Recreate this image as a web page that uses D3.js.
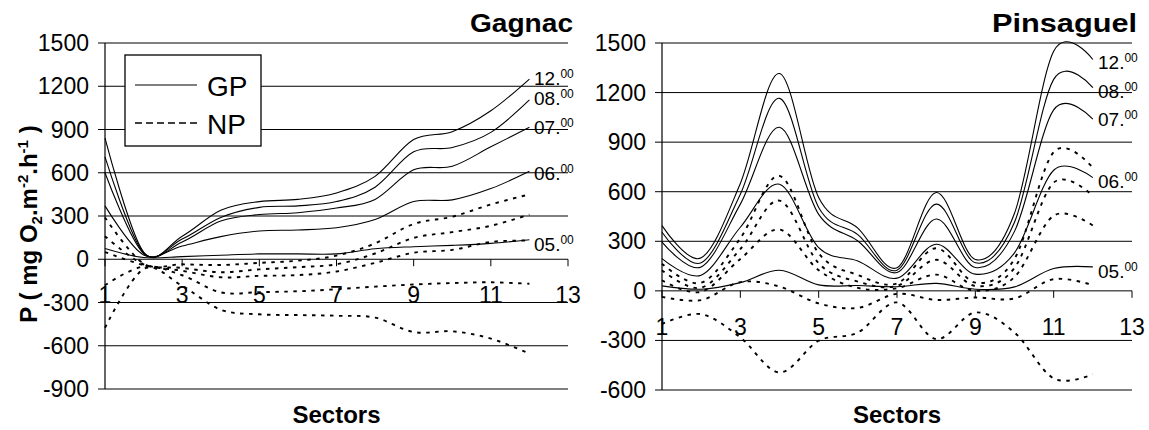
<!DOCTYPE html>
<html>
<head>
<meta charset="utf-8">
<script src="https://cdn.jsdelivr.net/npm/d3@7"></script>
<style>
  html, body { margin: 0; padding: 0; background: #fff; }
  svg { display: block; font-family: "Liberation Sans", Arial, sans-serif; }
</style>
</head>
<body>
<svg id="chart" width="1149" height="430"></svg>
<script>
// ---------- data ----------
const sectors = [1, 2, 3, 4, 5, 6, 7, 8, 9, 10, 11, 12];
const xTickValues = [1, 3, 5, 7, 9, 11, 13];
const gagnacYTicks = [-900, -600, -300, 0, 300, 600, 900, 1200, 1500];
const pinsaguelYTicks = [-600, -300, 0, 300, 600, 900, 1200, 1500];
const hours = ["12", "08", "07", "06", "05"];

// Gagnac gross production (GP) per hour
const gagnacGP12 = [840, 50, 160, 340, 400, 415, 460, 575, 830, 885, 1030, 1250];
const gagnacGP08 = [710, 45, 140, 290, 360, 370, 400, 500, 745, 775, 880, 1105];
const gagnacGP07 = [600, 40, 120, 265, 310, 323, 355, 415, 620, 645, 780, 915];
const gagnacGP06 = [370, 30, 92, 157, 196, 203, 218, 275, 400, 412, 490, 610];
const gagnacGP05 = [75, 12, 18, 28, 37, 37, 37, 73, 87, 96, 110, 135];
// Gagnac net production (NP)
const gagnacNP12 = [290, -30, -35, -40, -25, -10, 25, 110, 245, 295, 380, 450];
const gagnacNP08 = [160, -35, -60, -90, -70, -55, -35, 40, 148, 188, 232, 310];
const gagnacNP07 = [50, -40, -80, -125, -115, -110, -85, -25, 45, 65, 120, 130];
const gagnacNP06 = [-180, -50, -111, -230, -228, -222, -208, -190, -175, -165, -160, -170];
const gagnacNP05 = [-475, -68, -185, -350, -382, -387, -392, -405, -505, -500, -550, -655];

// Pinsaguel gross production (GP)
const pinsaguelGP12 = [395, 200, 650, 1315, 565, 380, 140, 595, 190, 470, 1450, 1400];
const pinsaguelGP08 = [355, 170, 585, 1165, 505, 340, 125, 525, 170, 415, 1280, 1230];
const pinsaguelGP07 = [295, 145, 525, 990, 463, 302, 111, 435, 141, 360, 1095, 1040];
const pinsaguelGP06 = [195, 95, 385, 645, 262, 181, 77, 282, 101, 230, 730, 685];
const pinsaguelGP05 = [30, 10, 50, 125, 36, 32, 25, 45, 10, 24, 135, 145];
// Pinsaguel net production (NP)
const pinsaguelNP12 = [164, 49, 318, 696, 227, 96, 45, 258, 50, 194, 840, 745];
const pinsaguelNP08 = [124, 19, 253, 546, 167, 56, 30, 188, 30, 139, 655, 575];
const pinsaguelNP07 = [64, -6, 193, 371, 125, 18, 16, 98, 0, 84, 455, 395];
const pinsaguelNP06 = [-36, -56, 53, 26, -76, -103, -18, -55, -40, -46, 71, 35];
const pinsaguelNP05 = [-201, -141, -282, -494, -302, -252, -70, -292, -131, -252, -530, -505];

// ---------- drawing ----------
const svg = d3.select("#chart");
const curve = d3.curveCardinal.tension(0);

function drawPanel(cfg) {
  const x = d3.scaleLinear().domain([1, 13]).range([cfg.x0, cfg.x1]);
  const y = d3.scaleLinear().domain([cfg.yTicks[0], 1500]).range([cfg.yBottom, 43]);
  const g = svg.append("g");

  // gridlines (extend left as tick marks)
  g.selectAll("line.grid").data(cfg.yTicks).join("line")
    .attr("x1", cfg.x0 - 7).attr("x2", cfg.x1)
    .attr("y1", d => y(d)).attr("y2", d => y(d))
    .attr("stroke", "#000").attr("stroke-width", 1);

  // y axis
  g.append("line").attr("x1", x(1)).attr("x2", x(1))
    .attr("y1", y(1500)).attr("y2", y(cfg.yTicks[0]))
    .attr("stroke", "#000").attr("stroke-width", 1.2);

  // y tick labels
  g.selectAll("text.yl").data(cfg.yTicks).join("text")
    .attr("x", cfg.x0 - 16).attr("y", d => y(d) + 8)
    .attr("text-anchor", "end").attr("font-size", 23)
    .text(d => d);

  // x ticks at zero line
  g.selectAll("line.xt").data(xTickValues).join("line")
    .attr("x1", d => x(d)).attr("x2", d => x(d))
    .attr("y1", y(0)).attr("y2", y(0) + 7)
    .attr("stroke", "#000").attr("stroke-width", 1);

  g.selectAll("text.xl").data(xTickValues).join("text")
    .attr("x", d => x(d)).attr("y", y(0) + 44)
    .attr("text-anchor", "middle").attr("font-size", 23)
    .text(d => d);

  const line = d3.line().x((d, i) => x(sectors[i])).y(d => y(d)).curve(curve);

  cfg.np.forEach(s => {
    g.append("path").attr("d", line(s)).attr("fill", "none")
      .attr("stroke", "#000").attr("stroke-width", 1.9)
      .attr("stroke-dasharray", "3.5,5.5");
  });
  cfg.gp.forEach(s => {
    g.append("path").attr("d", line(s)).attr("fill", "none")
      .attr("stroke", "#000").attr("stroke-width", 1.1);
  });

  // hour labels
  cfg.labelY.forEach((ly, i) => {
    const t = g.append("text").attr("x", cfg.labelX).attr("y", ly)
      .attr("font-size", 19);
    t.append("tspan").text(hours[i] + ".");
    t.append("tspan").attr("font-size", 12).attr("dy", -7).text("00");
  });

  // title
  g.append("text").attr("x", cfg.titleRight).attr("y", 32)
    .attr("text-anchor", "end").attr("font-size", 25).attr("font-weight", "bold")
    .attr("textLength", cfg.titleLen).attr("lengthAdjust", "spacingAndGlyphs")
    .text(cfg.title);

  // x axis title
  g.append("text").attr("x", (cfg.x0 + cfg.x1) / 2).attr("y", 423)
    .attr("text-anchor", "middle").attr("font-size", 24).attr("font-weight", "bold")
    .text("Sectors");
  return { x, y };
}

drawPanel({
  x0: 105, x1: 568, yBottom: 389, yTicks: gagnacYTicks,
  gp: [gagnacGP12, gagnacGP08, gagnacGP07, gagnacGP06, gagnacGP05],
  np: [gagnacNP12, gagnacNP08, gagnacNP07, gagnacNP06, gagnacNP05],
  labelX: 534, labelY: [85, 105, 134, 180, 251],
  title: "Gagnac", titleRight: 573, titleLen: 103
});

drawPanel({
  x0: 662, x1: 1132, yBottom: 390, yTicks: pinsaguelYTicks,
  gp: [pinsaguelGP12, pinsaguelGP08, pinsaguelGP07, pinsaguelGP06, pinsaguelGP05],
  np: [pinsaguelNP12, pinsaguelNP08, pinsaguelNP07, pinsaguelNP06, pinsaguelNP05],
  labelX: 1098, labelY: [69, 98, 126, 188, 278],
  title: "Pinsaguel", titleRight: 1137, titleLen: 145
});

// legend (Gagnac panel)
const lg = svg.append("g");
lg.append("rect").attr("x", 125).attr("y", 55).attr("width", 136).attr("height", 91)
  .attr("fill", "#fff").attr("stroke", "#000").attr("stroke-width", 1.3);
lg.append("line").attr("x1", 135).attr("x2", 197).attr("y1", 85).attr("y2", 85)
  .attr("stroke", "#000").attr("stroke-width", 1.1);
lg.append("line").attr("x1", 135).attr("x2", 197).attr("y1", 123).attr("y2", 123)
  .attr("stroke", "#000").attr("stroke-width", 1.5).attr("stroke-dasharray", "7,4");
lg.append("text").attr("x", 207).attr("y", 96).attr("font-size", 28).text("GP");
lg.append("text").attr("x", 207).attr("y", 134).attr("font-size", 28).text("NP");

// y axis title
const yt = svg.append("text")
  .attr("transform", "translate(37,224) rotate(-90)")
  .attr("text-anchor", "middle").attr("font-size", 24).attr("font-weight", "bold");
yt.append("tspan").text("P ( mg O");
yt.append("tspan").attr("font-size", 15).attr("dy", 5).text("2");
yt.append("tspan").attr("dy", -5).text(".m");
yt.append("tspan").attr("font-size", 15).attr("dy", -9).text("-2");
yt.append("tspan").attr("dy", 9).text(".h");
yt.append("tspan").attr("font-size", 15).attr("dy", -9).text("-1");
yt.append("tspan").attr("dy", 9).text(" )");
</script>
</body>
</html>
